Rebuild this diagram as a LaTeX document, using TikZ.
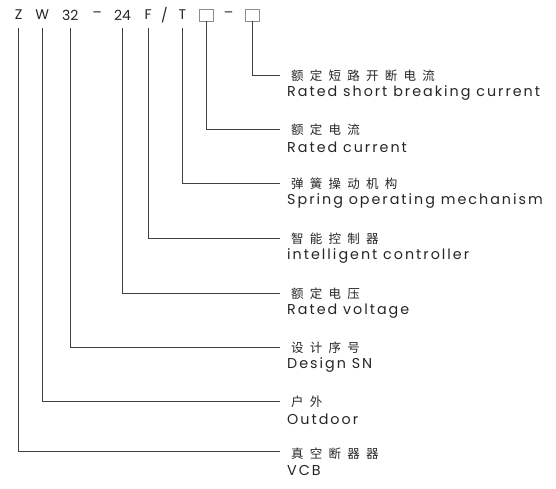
\documentclass[tikz,border=0pt]{standalone}
\usepackage{fontspec}
\setmainfont{Poppins}
\newfontfamily\cjk[LetterSpace=50]{Noto Sans CJK SC}
\newfontfamily\enfont[LetterSpace=14]{Poppins}
\newfontfamily\codefont[LetterSpace=0]{Poppins}
\tikzset{
  lbl/.style={anchor=west, inner sep=0pt, font=\enfont\fontsize{14.3}{16}\selectfont, text=black!85},
  zh/.style={anchor=west, inner sep=0pt, font=\cjk\fontsize{12.5}{14}\selectfont, text=black!85},
  code/.style={inner sep=0pt, font=\codefont\fontsize{14}{16}\selectfont, text=black!85},
  codebox/.style={draw=black!45, line width=0.5pt, minimum width=14pt, minimum height=12pt, inner sep=0pt},
  ln/.style={draw=black!75, line width=0.7pt}
}
\begin{document}
\begin{tikzpicture}[x=1pt,y=-1pt]
\useasboundingbox (0,0) rectangle (556,489);
% code row
\node[code] (cZ) at (18.7,15) {Z};
\node[code] (cW) at (42.3,15) {W};
\node[code] (c32) at (70.3,15) {32};
\node[code] (d1) at (97,15) {–};
\node[code] (c24) at (122.5,15) {24};
\node[code] (cF) at (148.2,15) {F};
\node[code] (sl) at (164.5,15) {/};
\node[code] (cT) at (182.5,15) {T};
\node[codebox] (b1) at (206,15) {};
\node[code] (d2) at (228.5,15) {–};
\node[codebox] (b2) at (252.7,15) {};
% ends of connectors
\coordinate (e1) at (280,75);
\coordinate (e2) at (280,129);
\coordinate (e3) at (280,183);
\coordinate (e4) at (280,238);
\coordinate (e5) at (280,293);
\coordinate (e6) at (280,347);
\coordinate (e7) at (280,401);
\coordinate (e8) at (280,451);
% connectors
\draw[ln] (b2.south) |- (e1);
\draw[ln] (b1.south) |- (e2);
\draw[ln] ([yshift=-8pt]cT.south) |- (e3);
\draw[ln] ([yshift=-8pt]cF.south) |- (e4);
\draw[ln] ([yshift=-8pt]c24.south) |- (e5);
\draw[ln] ([yshift=-8pt]c32.south) |- (e6);
\draw[ln] ([yshift=-8pt]cW.south) |- (e7);
\draw[ln] ([yshift=-8pt]cZ.south) |- (e8);
% labels
\node[zh] (z1) at (291,76) {额定短路开断电流};
\node[lbl] (l1) at (287,93) {Rated short breaking current};
\node[zh] (z2) at (291,130) {额定电流};
\node[lbl] (l2) at (287,147) {Rated current};
\node[zh] (z3) at (291,184) {弹簧操动机构};
\node[lbl] (l3) at (287,201) {Spring operating mechanism};
\node[zh] (z4) at (291,239) {智能控制器};
\node[lbl] (l4) at (287,256) {intelligent controller};
\node[zh] (z5) at (291,294) {额定电压};
\node[lbl] (l5) at (287,311) {Rated voltage};
\node[zh] (z6) at (291,348) {设计序号};
\node[lbl] (l6) at (287,365) {Design SN};
\node[zh] (z7) at (291,402) {户外};
\node[lbl] (l7) at (287,419) {Outdoor};
\node[zh] (z8) at (291,454) {真空断器器};
\node[lbl] (l8) at (287,470) {VCB};
\end{tikzpicture}
\end{document}
